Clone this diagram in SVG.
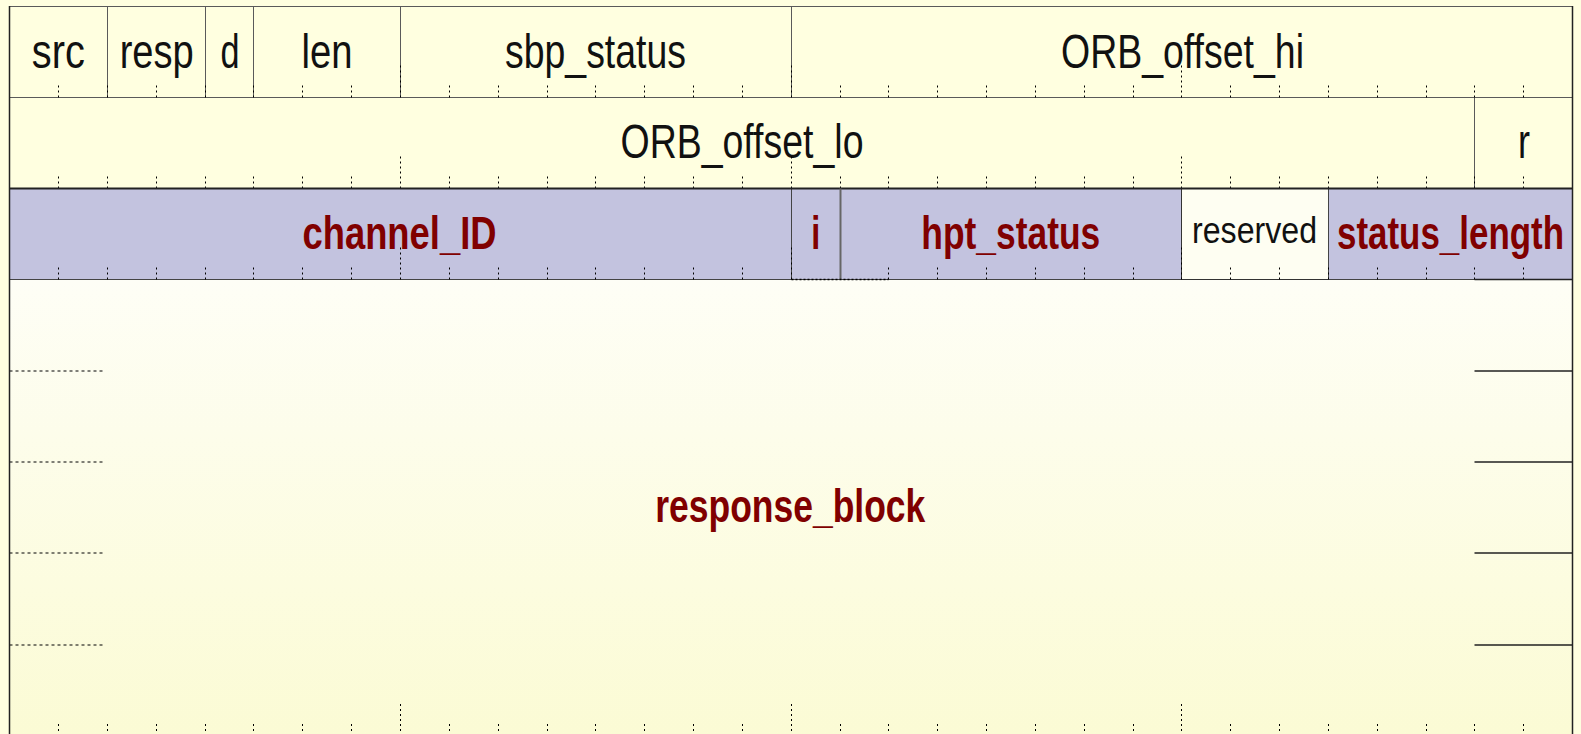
<svg xmlns="http://www.w3.org/2000/svg" xmlns:xlink="http://www.w3.org/1999/xlink" width="1581" height="734" viewBox="0 0 1581 734">
<style>
.f{fill:#FFFFE0;stroke:#5a5a5a;stroke-width:1}
.b{fill:#C3C3DF;stroke:#444;stroke-width:1}
.w{fill:#FEFEF2;stroke:#333;stroke-width:1}
.t{font-family:"Liberation Sans",Arial,sans-serif;font-size:48px;fill:#111;text-anchor:middle}
.r{font-family:"Liberation Sans",Arial,sans-serif;font-size:47px;font-weight:bold;fill:#800000;text-anchor:middle}
.s{font-family:"Liberation Sans",Arial,sans-serif;font-size:37px;fill:#111;text-anchor:middle}
.tk{fill:none;stroke:#000;stroke-width:1;stroke-dasharray:2 3}
.dl{fill:none;stroke:#000;stroke-width:1;stroke-dasharray:3 3}
.sl{fill:none;stroke:#222;stroke-width:1.5}
</style>
<defs>
<linearGradient id="rg" x1="0" y1="0" x2="0" y2="1">
<stop offset="0" stop-color="#FEFEF6"/>
<stop offset="1" stop-color="#FBFBD4"/>
</linearGradient>
<path id="ticks" class="tk" d="M58.5 0v-14M107.5 0v-14M156.5 0v-14M205.5 0v-14M253.5 0v-14M302.5 0v-14M351.5 0v-14M400.5 0v-33M449.5 0v-14M498.5 0v-14M547.5 0v-14M595.5 0v-14M644.5 0v-14M693.5 0v-14M742.5 0v-14M791.5 0v-33M840.5 0v-14M888.5 0v-14M937.5 0v-14M986.5 0v-14M1035.5 0v-14M1084.5 0v-14M1133.5 0v-14M1181.5 0v-33M1230.5 0v-14M1279.5 0v-14M1328.5 0v-14M1377.5 0v-14M1426.5 0v-14M1474.5 0v-14M1523.5 0v-14"/>
</defs>
<rect x="0" y="0" width="1581" height="734" fill="#FFFFE0"/>

<g id="src"><rect class="f" x="9.5" y="6.5" width="98" height="91"/><text class="t" x="58.3" y="68" textLength="53" lengthAdjust="spacingAndGlyphs">src</text></g>
<g id="resp"><rect class="f" x="107.5" y="6.5" width="98" height="91"/><text class="t" x="156.7" y="68" textLength="74" lengthAdjust="spacingAndGlyphs">resp</text></g>
<g id="d"><rect class="f" x="205.5" y="6.5" width="48" height="91"/><text class="t" x="230" y="68" textLength="19" lengthAdjust="spacingAndGlyphs">d</text></g>
<g id="len"><rect class="f" x="253.5" y="6.5" width="147" height="91"/><text class="t" x="327" y="68" textLength="51" lengthAdjust="spacingAndGlyphs">len</text></g>
<g id="sbp_status"><rect class="f" x="400.5" y="6.5" width="391" height="91"/><text class="t" x="595.5" y="68" textLength="181" lengthAdjust="spacingAndGlyphs">sbp_status</text></g>
<g id="ORB_offset_hi"><rect class="f" x="791.5" y="6.5" width="781" height="91"/><text class="t" x="1182.5" y="68" textLength="243" lengthAdjust="spacingAndGlyphs">ORB_offset_hi</text></g>

<g id="ORB_offset_lo"><rect class="f" x="9.5" y="97.5" width="1465" height="91"/><text class="t" x="742" y="158" textLength="243" lengthAdjust="spacingAndGlyphs">ORB_offset_lo</text></g>
<g id="r"><rect class="f" x="1474.5" y="97.5" width="98" height="91"/><text class="t" x="1524" y="158" textLength="12" lengthAdjust="spacingAndGlyphs">r</text></g>

<g id="response_block"><rect x="9.5" y="279.5" width="1563" height="460" fill="url(#rg)"/><text class="r" x="790.3" y="522" font-size="42" textLength="270" lengthAdjust="spacingAndGlyphs">response_block</text></g>

<g id="channel_ID"><rect class="b" x="9.5" y="188.5" width="782" height="91"/><text class="r" x="399.5" y="249" textLength="194" lengthAdjust="spacingAndGlyphs">channel_ID</text></g>
<g id="i"><rect class="b" x="791.5" y="188.5" width="49" height="91"/><text class="r" x="815.7" y="249" textLength="9" lengthAdjust="spacingAndGlyphs">i</text></g>
<g id="hpt_status"><rect class="b" x="840.5" y="188.5" width="341" height="91"/><text class="r" x="1010.8" y="249" textLength="179" lengthAdjust="spacingAndGlyphs">hpt_status</text></g>
<g id="reserved"><rect class="w" x="1181.5" y="188.5" width="147" height="91"/><text class="s" x="1254.5" y="243" textLength="125" lengthAdjust="spacingAndGlyphs">reserved</text></g>
<g id="status_length"><rect class="b" x="1328.5" y="188.5" width="244" height="91"/><text class="r" x="1450.5" y="249" textLength="227" lengthAdjust="spacingAndGlyphs">status_length</text></g>

<g id="connectors">
<use xlink:href="#ticks" href="#ticks" y="97.5"/>
<use xlink:href="#ticks" href="#ticks" y="188.5"/>
<use xlink:href="#ticks" href="#ticks" y="279.5"/>
<use xlink:href="#ticks" href="#ticks" y="736"/>
<path d="M9.5 188.5H1572.5" fill="none" stroke="#222" stroke-width="2"/>
<path d="M840.5 188.5V279.5" fill="none" stroke="#666" stroke-width="2"/>
<path d="M791.5 279.5H888.5" fill="none" stroke="#000" stroke-width="1.5" stroke-dasharray="2 2"/>
<path d="M1474.5 279.5H1572.5" class="sl"/>
<path d="M9.5 371H105M9.5 462H105M9.5 553H105M9.5 645H105" class="dl"/>
<path d="M1474.5 371H1572.5M1474.5 462H1572.5M1474.5 553H1572.5M1474.5 645H1572.5" class="sl"/>
<path d="M9.5 6V734M1572.5 6V734" class="sl"/>
</g>
</svg>
